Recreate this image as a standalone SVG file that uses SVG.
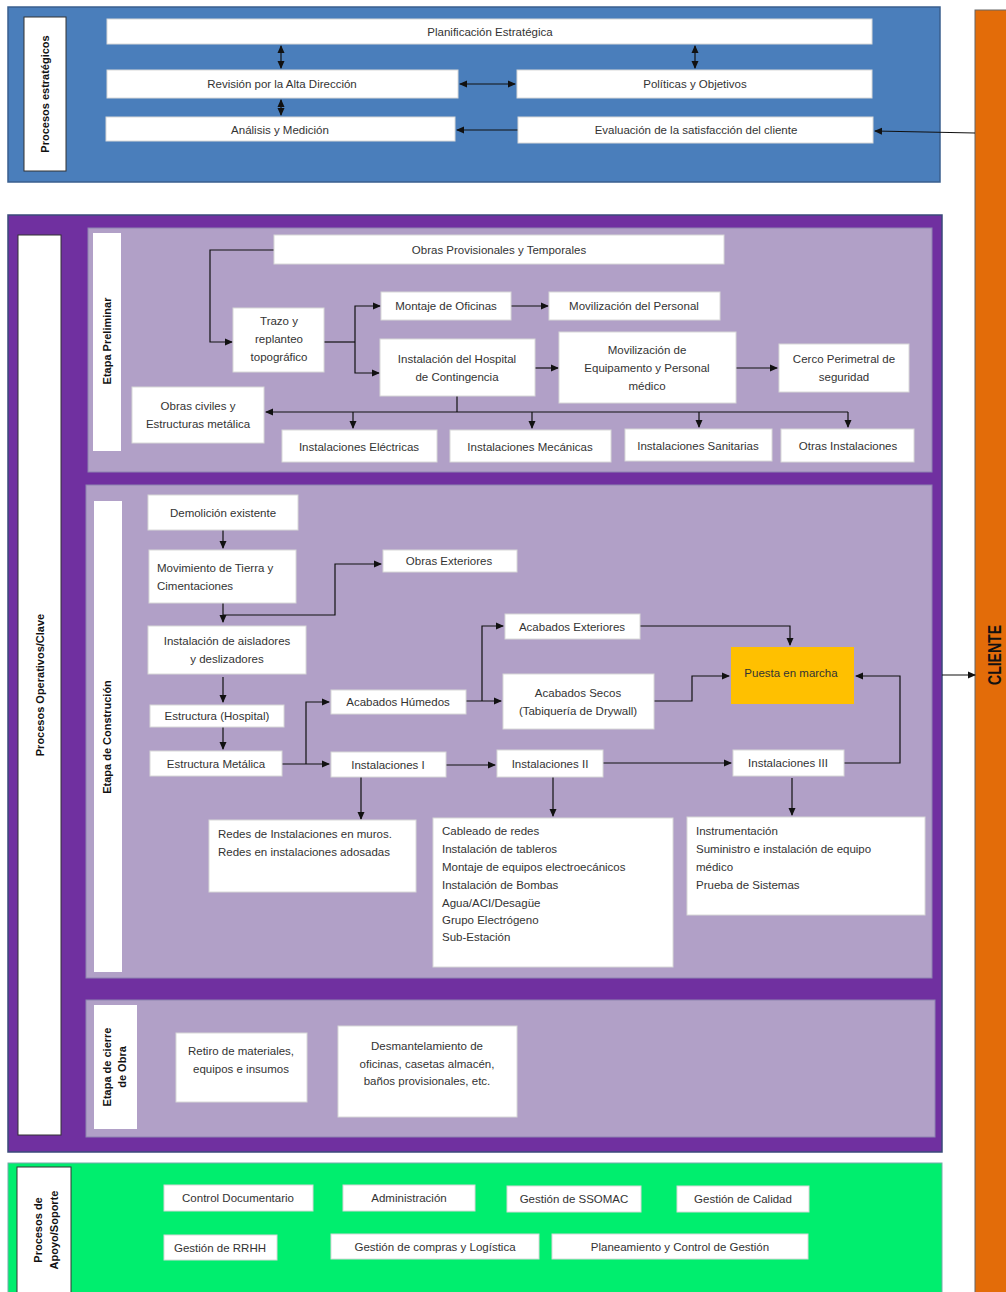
<svg xmlns="http://www.w3.org/2000/svg" width="1006" height="1292" viewBox="0 0 1006 1292">
<defs>
<marker id="ah" markerWidth="8" markerHeight="8" refX="7" refY="4" orient="auto" markerUnits="userSpaceOnUse">
<path d="M0,0.5 L8,4 L0,7.5 Z" fill="#111"/>
</marker>
<marker id="as" markerWidth="8" markerHeight="8" refX="1" refY="4" orient="auto" markerUnits="userSpaceOnUse">
<path d="M8,0.5 L0,4 L8,7.5 Z" fill="#111"/>
</marker>
<style>
.b{fill:#fff;stroke:#d8d8d8;stroke-width:1}
.t{font-family:"Liberation Sans","Open Sans",sans-serif;font-size:11.5px;fill:#333;text-anchor:middle}
.tl{font-family:"Liberation Sans","Open Sans",sans-serif;font-size:11.5px;fill:#333;text-anchor:start}
.lab{font-family:"Liberation Sans","Open Sans",sans-serif;font-size:11px;font-weight:bold;fill:#111;text-anchor:middle}
.c{fill:none;stroke:#111;stroke-width:1.2}
.ca{fill:none;stroke:#111;stroke-width:1.2;marker-end:url(#ah)}
.cd{fill:none;stroke:#111;stroke-width:1.2;marker-end:url(#ah);marker-start:url(#as)}
</style>
</defs>
<rect width="1006" height="1292" fill="#fff"/>

<!-- Panels -->
<g id="panel-estrategicos">
<rect x="8" y="7" width="932" height="175" fill="#4A7EBB" stroke="#3a5f8e" stroke-width="1.5"/>
<rect x="24" y="17" width="42" height="154" fill="#fff" stroke="#333" stroke-width="1"/>
<text class="lab" transform="translate(49,94) rotate(-90)">Procesos estratégicos</text>
</g>
<g id="cliente">
<rect x="975" y="10" width="32" height="1284" fill="#E36C09" stroke="#666" stroke-width="1"/>
<text transform="translate(1001,655) rotate(-90)" font-family="Liberation Sans Narrow,Liberation Sans,sans-serif" font-size="19" font-weight="bold" fill="#111" text-anchor="middle" textLength="60" lengthAdjust="spacingAndGlyphs">CLIENTE</text>
</g>
<g id="panel-operativos">
<rect x="8" y="215" width="934" height="937" fill="#7030A0" stroke="#3a4a7a" stroke-width="1.5"/>
<rect x="18" y="235" width="43" height="900" fill="#fff" stroke="#333" stroke-width="1"/>
<text class="lab" transform="translate(44,685) rotate(-90)" font-size="10.5">Procesos Operativos/Clave</text>
<rect x="88" y="228" width="844" height="244" fill="#B1A0C7" stroke="#8d84b0" stroke-width="1"/>
<rect x="93" y="233" width="28" height="218" fill="#fff"/>
<text class="lab" transform="translate(111,341) rotate(-90)">Etapa Preliminar</text>
<rect x="86" y="485" width="846" height="493" fill="#B1A0C7" stroke="#8d84b0" stroke-width="1"/>
<rect x="94" y="501" width="28" height="471" fill="#fff"/>
<text class="lab" transform="translate(111,737) rotate(-90)">Etapa de Construción</text>
<rect x="86" y="1000" width="849" height="137" fill="#B1A0C7" stroke="#8d84b0" stroke-width="1"/>
<rect x="94" y="1005" width="43" height="124" fill="#fff"/>
<text class="lab" transform="translate(111,1067) rotate(-90)">Etapa de cierre</text>
<text class="lab" transform="translate(126,1067) rotate(-90)">de Obra</text>
</g>
<g id="panel-apoyo">
<rect x="8" y="1163" width="934" height="132" fill="#00EE6E" stroke="#7aa" stroke-width="1"/>
<rect x="17" y="1167" width="54" height="130" fill="#fff" stroke="#333" stroke-width="1"/>
<text class="lab" transform="translate(42,1230) rotate(-90)">Procesos de</text>
<text class="lab" transform="translate(58,1230) rotate(-90)">Apoyo/Soporte</text>
</g>

<!-- Connectors -->
<g id="connectors">
<path class="cd" d="M281,46 V68"/>
<path class="cd" d="M281,100 V115"/>
<path class="cd" d="M695,46 V68"/>
<path class="cd" d="M460,84 H515"/>
<path class="ca" d="M518,130 H457"/>
<path class="ca" d="M975,133 L875,131"/>
<path class="ca" d="M942,675 H975"/>

<path class="ca" d="M274,250 H210 V342 H232"/>
<path class="c" d="M324,342 H355"/>
<path class="ca" d="M355,342 V306 H380"/>
<path class="ca" d="M355,342 V373 H379"/>
<path class="ca" d="M511,306 H548"/>
<path class="ca" d="M535,368 H558"/>
<path class="ca" d="M736,368 H777"/>
<path class="c" d="M457,396 V412"/>
<path class="ca" d="M848,412 H266"/>
<path class="ca" d="M353,412 V428"/>
<path class="ca" d="M532,412 V428"/>
<path class="ca" d="M699,412 V427"/>
<path class="ca" d="M848,412 V427"/>

<path class="ca" d="M223,530 V548"/>
<path class="ca" d="M223,603 V622"/>
<path class="ca" d="M223,615 H335 V564 H381"/>
<path class="ca" d="M223,677 V702"/>
<path class="ca" d="M223,727 V749"/>
<path class="ca" d="M282,764 H329"/>
<path class="ca" d="M306,764 V702 H329"/>
<path class="ca" d="M466,701 H501"/>
<path class="ca" d="M482,701 V626 H503"/>
<path class="ca" d="M640,626 H790 V645"/>
<path class="ca" d="M654,701 H692 V676 H729"/>
<path class="ca" d="M844,763 H900 V676 H856"/>
<path class="ca" d="M446,765 H495"/>
<path class="ca" d="M603,763 H731"/>
<path class="ca" d="M361,777 V819"/>
<path class="ca" d="M553,777 V816"/>
<path class="ca" d="M792,778 V815"/>
</g>

<!-- Strategic nodes -->
<g id="n-planificacion"><rect class="b" x="107" y="19" width="765" height="25"/><text class="t" x="490" y="36">Planificación Estratégica</text></g>
<g id="n-revision"><rect class="b" x="107" y="70" width="351" height="28"/><text class="t" x="282" y="88">Revisión por la Alta Dirección</text></g>
<g id="n-analisis"><rect class="b" x="106" y="117" width="349" height="24"/><text class="t" x="280" y="134">Análisis y Medición</text></g>
<g id="n-politicas"><rect class="b" x="517" y="70" width="355" height="28"/><text class="t" x="695" y="88">Políticas y Objetivos</text></g>
<g id="n-evaluacion"><rect class="b" x="518" y="117" width="355" height="26"/><text class="t" x="696" y="134">Evaluación de la satisfacción del cliente</text></g>

<!-- Preliminar nodes -->
<g id="n-obrasprov"><rect class="b" x="274" y="235" width="450" height="29"/><text class="t" x="499" y="254">Obras Provisionales y Temporales</text></g>
<g id="n-trazo"><rect class="b" x="233" y="308" width="91" height="64"/><text class="t" x="279" y="325">Trazo y</text><text class="t" x="279" y="343">replanteo</text><text class="t" x="279" y="361">topográfico</text></g>
<g id="n-montaje"><rect class="b" x="381" y="292" width="130" height="28"/><text class="t" x="446" y="310">Montaje de Oficinas</text></g>
<g id="n-movpersonal"><rect class="b" x="549" y="292" width="171" height="28"/><text class="t" x="634" y="310">Movilización del Personal</text></g>
<g id="n-hospital"><rect class="b" x="380" y="339" width="155" height="57"/><text class="t" x="457" y="363">Instalación del Hospital</text><text class="t" x="457" y="381">de Contingencia</text></g>
<g id="n-moveq"><rect class="b" x="559" y="332" width="177" height="71"/><text class="t" x="647" y="354">Movilización de</text><text class="t" x="647" y="372">Equipamento y Personal</text><text class="t" x="647" y="390">médico</text></g>
<g id="n-cerco"><rect class="b" x="779" y="344" width="130" height="48"/><text class="t" x="844" y="363">Cerco Perimetral de</text><text class="t" x="844" y="381">seguridad</text></g>
<g id="n-obrasciviles"><rect class="b" x="132" y="387" width="132" height="56"/><text class="t" x="198" y="410">Obras civiles y</text><text class="t" x="198" y="428">Estructuras metálica</text></g>
<g id="n-ielec"><rect class="b" x="282" y="430" width="155" height="32"/><text class="t" x="359" y="451">Instalaciones Eléctricas</text></g>
<g id="n-imec"><rect class="b" x="450" y="430" width="161" height="32"/><text class="t" x="530" y="451">Instalaciones Mecánicas</text></g>
<g id="n-isan"><rect class="b" x="625" y="429" width="147" height="32"/><text class="t" x="698" y="450">Instalaciones Sanitarias</text></g>
<g id="n-otras"><rect class="b" x="781" y="429" width="133" height="33"/><text class="t" x="848" y="450">Otras Instalaciones</text></g>

<!-- Construction nodes -->
<g id="n-demolicion"><rect class="b" x="148" y="495" width="150" height="35"/><text class="t" x="223" y="517">Demolición existente</text></g>
<g id="n-movtierra"><rect class="b" x="149" y="550" width="147" height="53"/><text class="tl" x="157" y="572">Movimiento de Tierra y</text><text class="tl" x="157" y="590">Cimentaciones</text></g>
<g id="n-obrasext"><rect class="b" x="383" y="550" width="134" height="22"/><text class="t" x="449" y="565">Obras Exteriores</text></g>
<g id="n-aisladores"><rect class="b" x="148" y="626" width="158" height="48"/><text class="t" x="227" y="645">Instalación de aisladores</text><text class="t" x="227" y="663">y deslizadores</text></g>
<g id="n-estructura"><rect class="b" x="150" y="705" width="134" height="22"/><text class="t" x="217" y="720">Estructura (Hospital)</text></g>
<g id="n-estmetalica"><rect class="b" x="150" y="751" width="132" height="25"/><text class="t" x="216" y="768">Estructura Metálica</text></g>
<g id="n-acabhumedos"><rect class="b" x="331" y="690" width="135" height="24"/><text class="t" x="398" y="706">Acabados Húmedos</text></g>
<g id="n-acabext"><rect class="b" x="505" y="614" width="135" height="25"/><text class="t" x="572" y="631">Acabados Exteriores</text></g>
<g id="n-acabsecos"><rect class="b" x="503" y="674" width="151" height="55"/><text class="t" x="578" y="697">Acabados Secos</text><text class="t" x="578" y="715">(Tabiquería de Drywall)</text></g>
<g id="n-puesta"><rect x="731" y="647" width="123" height="57" fill="#FFC000"/><text class="t" x="791" y="677" fill="#222">Puesta en marcha</text></g>
<g id="n-inst1"><rect class="b" x="331" y="752" width="115" height="25"/><text class="t" x="388" y="769">Instalaciones I</text></g>
<g id="n-inst2"><rect class="b" x="497" y="750" width="106" height="27"/><text class="t" x="550" y="768">Instalaciones II</text></g>
<g id="n-inst3"><rect class="b" x="733" y="750" width="111" height="26"/><text class="t" x="788" y="767">Instalaciones III</text></g>
<g id="n-redes"><rect class="b" x="209" y="820" width="207" height="72"/><text class="tl" x="218" y="838">Redes de Instalaciones en muros.</text><text class="tl" x="218" y="856">Redes en instalaciones adosadas</text></g>
<g id="n-cableado"><rect class="b" x="433" y="818" width="240" height="149"/>
<text class="tl" x="442" y="835">Cableado de redes</text>
<text class="tl" x="442" y="853">Instalación de tableros</text>
<text class="tl" x="442" y="871">Montaje de equipos electroecánicos</text>
<text class="tl" x="442" y="889">Instalación de Bombas</text>
<text class="tl" x="442" y="907">Agua/ACI/Desagüe</text>
<text class="tl" x="442" y="924">Grupo Electrógeno</text>
<text class="tl" x="442" y="941">Sub-Estación</text></g>
<g id="n-instrumentacion"><rect class="b" x="687" y="817" width="238" height="98"/>
<text class="tl" x="696" y="835">Instrumentación</text>
<text class="tl" x="696" y="853">Suministro e instalación  de equipo</text>
<text class="tl" x="696" y="871">médico</text>
<text class="tl" x="696" y="889">Prueba de Sistemas</text></g>

<!-- Cierre nodes -->
<g id="n-retiro"><rect class="b" x="176" y="1033" width="131" height="69"/><text class="t" x="241" y="1055">Retiro de materiales,</text><text class="t" x="241" y="1073">equipos e insumos</text></g>
<g id="n-desmantelamiento"><rect class="b" x="338" y="1026" width="179" height="91"/><text class="t" x="427" y="1050">Desmantelamiento de</text><text class="t" x="427" y="1068">oficinas, casetas almacén,</text><text class="t" x="427" y="1085">baños provisionales, etc.</text></g>

<!-- Support nodes -->
<g id="n-control"><rect class="b" x="164" y="1185" width="149" height="26"/><text class="t" x="238" y="1202">Control Documentario</text></g>
<g id="n-admin"><rect class="b" x="343" y="1185" width="132" height="26"/><text class="t" x="409" y="1202">Administración</text></g>
<g id="n-ssomac"><rect class="b" x="507" y="1186" width="134" height="26"/><text class="t" x="574" y="1203">Gestión de SSOMAC</text></g>
<g id="n-calidad"><rect class="b" x="677" y="1186" width="132" height="26"/><text class="t" x="743" y="1203">Gestión de Calidad</text></g>
<g id="n-rrhh"><rect class="b" x="164" y="1235" width="113" height="25"/><text class="t" x="220" y="1252">Gestión de RRHH</text></g>
<g id="n-compras"><rect class="b" x="331" y="1234" width="208" height="25"/><text class="t" x="435" y="1251">Gestión de compras y Logística</text></g>
<g id="n-planeamiento"><rect class="b" x="552" y="1234" width="256" height="25"/><text class="t" x="680" y="1251">Planeamiento y Control de Gestión</text></g>
</svg>
